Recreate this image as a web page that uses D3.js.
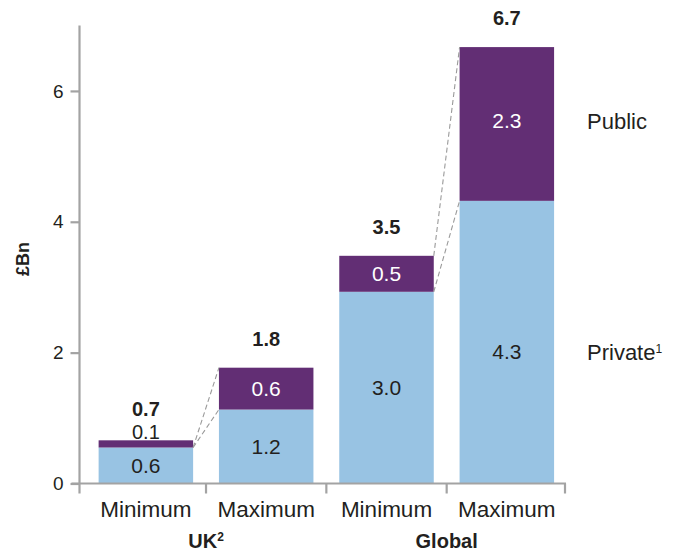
<!DOCTYPE html>
<html>
<head>
<meta charset="utf-8">
<script src="https://cdn.jsdelivr.net/npm/d3@7"></script>
<style>
  html, body { margin: 0; padding: 0; background: #ffffff; }
  svg { display: block; }
  text { font-family: "Liberation Sans", Arial, sans-serif; fill: #231f20; }
</style>
</head>
<body>
<svg id="chart" width="675" height="553"></svg>
<script>
// ---- data ----
const categories = ["Minimum", "Maximum", "Minimum", "Maximum"];
const groups = ["UK", "Global"];
const groupOf = [0, 0, 1, 1];
const privateValues = [0.55, 1.13, 2.93, 4.32];
const publicValues = [0.11, 0.64, 0.55, 2.35];
const privateLabels = ["0.6", "1.2", "3.0", "4.3"];
const publicLabels = ["0.1", "0.6", "0.5", "2.3"];
const totalLabels = ["0.7", "1.8", "3.5", "6.7"];
const yTicks = [0, 2, 4, 6];
const legendLabels = ["Public", "Private"];
// connector lines: [fromBar, fromLevel, toBar, toLevel]
const connectors = [
  [0, "private", 1, "total"],
  [0, "private", 1, "private"],
  [2, "total", 3, "total"],
  [2, "private", 3, "private"]
];

// ---- layout ----
const svg = d3.select("#chart");
const plotLeft = 79.5, plotRight = 565, plotBottom = 483.5, plotTop = 25.5;
const purple = "#622e74";
const blue = "#98c3e3";
const axisColor = "#a3a3a3";

const x = d3.scaleBand().domain(d3.range(categories.length)).range([85.7, 567]).paddingInner(0).paddingOuter(0);
const barW = 94.5;
const y = d3.scaleLinear().domain([0, 7]).range([plotBottom, plotTop]);

const data = categories.map((c, i) => ({
  i, cat: c,
  priv: privateValues[i], pub: publicValues[i],
  total: privateValues[i] + publicValues[i]
}));
const cx = i => x(i) + x.bandwidth() / 2;
const bx = i => cx(i) - barW / 2;

// bars
svg.append("g").selectAll("rect").data(data).join("rect")
  .attr("x", d => bx(d.i)).attr("width", barW)
  .attr("y", d => y(d.priv)).attr("height", d => y(0) - y(d.priv))
  .attr("fill", blue);
svg.append("g").selectAll("rect").data(data).join("rect")
  .attr("x", d => bx(d.i)).attr("width", barW)
  .attr("y", d => y(d.total)).attr("height", d => y(d.priv) - y(d.total))
  .attr("fill", purple);

// connectors
const level = (i, l) => l === "total" ? data[i].total : data[i].priv;
svg.append("g").selectAll("line").data(connectors).join("line")
  .attr("x1", c => bx(c[0]) + barW).attr("y1", c => y(level(c[0], c[1])))
  .attr("x2", c => bx(c[2])).attr("y2", c => y(level(c[2], c[3])))
  .attr("stroke", "#9a9a9a").attr("stroke-width", 1.1)
  .attr("stroke-dasharray", "5,3");

// legend
const legendY = [121, 352];
svg.append("text").attr("x", 587).attr("y", legendY[0]).attr("dy", "0.35em")
  .style("font-size", "22px").text(legendLabels[0]);
const pl = svg.append("text").attr("x", 587).attr("y", legendY[1]).attr("dy", "0.35em")
  .style("font-size", "22px").text(legendLabels[1]);
pl.append("tspan").attr("dy", "-0.55em").style("font-size", "12px").text("1");

// segment labels
const last = data.length - 1;
svg.append("g").selectAll("text").data(data).join("text")
  .attr("x", d => cx(d.i))
  .attr("y", d => d.i === last ? legendY[1] : (y(0) + y(d.priv)) / 2)
  .attr("dy", "0.35em").attr("text-anchor", "middle")
  .style("font-size", "21px")
  .text(d => privateLabels[d.i]);
const small = d => (y(d.priv) - y(d.total)) < 20;
svg.append("g").selectAll("text").data(data).join("text")
  .attr("x", d => cx(d.i))
  .attr("y", d => {
    if (small(d)) return y(d.total) - 8;
    return d.i === last ? legendY[0] : (y(d.priv) + y(d.total)) / 2;
  })
  .attr("dy", "0.35em").attr("text-anchor", "middle")
  .style("font-size", d => small(d) ? "20px" : "21px")
  .style("fill", d => small(d) ? "#231f20" : "#ffffff")
  .text(d => publicLabels[d.i]);

// totals
svg.append("g").selectAll("text").data(data).join("text")
  .attr("x", d => cx(d.i))
  .attr("y", d => y(d.total) - (small(d) ? 31 : 29))
  .attr("dy", "0.35em").attr("text-anchor", "middle")
  .style("font-size", "20px").style("font-weight", "bold")
  .text(d => totalLabels[d.i]);

// y axis
const yAxis = d3.axisLeft(y).tickValues(yTicks).tickSize(9).tickPadding(7).tickFormat(d3.format("d"));
const gy = svg.append("g").attr("transform", `translate(${plotLeft},0)`).call(yAxis);
gy.select(".domain").attr("stroke", axisColor).attr("stroke-width", 2.2)
  .attr("d", `M0,${y(7)}V${plotBottom + 10}`);
gy.selectAll(".tick line").attr("stroke", axisColor).attr("stroke-width", 2.2);
gy.selectAll(".tick text").style("font-size", "19px").style("fill", "#231f20")
  .style("font-family", "'Liberation Sans', Arial, sans-serif");

// x axis
const xTicks = d3.range(1, categories.length).map(i => x(i)).concat([plotRight]);
const gx = svg.append("g");
gx.append("line").attr("x1", plotLeft - 8).attr("x2", plotRight + 1).attr("y1", plotBottom).attr("y2", plotBottom)
  .attr("stroke", axisColor).attr("stroke-width", 2.2);
gx.selectAll("line.t").data(xTicks).join("line")
  .attr("x1", d => d).attr("x2", d => d).attr("y1", plotBottom).attr("y2", plotBottom + 10)
  .attr("stroke", axisColor).attr("stroke-width", 2.2);
gx.selectAll("text").data(data).join("text")
  .attr("x", d => cx(d.i)).attr("y", 517)
  .attr("text-anchor", "middle").style("font-size", "22.5px")
  .text(d => d.cat);

// group labels, centred on the tick between each group's bars
const groupCenters = groups.map((g, gi) => {
  const idx = d3.range(categories.length).filter(i => groupOf[i] === gi);
  return x(idx[idx.length - 1]);
});
const uk = svg.append("text").attr("x", groupCenters[0]).attr("y", 548).attr("text-anchor", "middle")
  .style("font-size", "20px").style("font-weight", "bold").text(groups[0]);
uk.append("tspan").attr("dy", "-0.55em").style("font-size", "12px").text("2");
svg.append("text").attr("x", groupCenters[1]).attr("y", 548).attr("text-anchor", "middle")
  .style("font-size", "20px").style("font-weight", "bold").text(groups[1]);

// y title
svg.append("text").attr("transform", "translate(29,259) rotate(-90)")
  .attr("text-anchor", "middle").style("font-size", "18px").style("font-weight", "bold")
  .text("£Bn");
</script>
</body>
</html>
